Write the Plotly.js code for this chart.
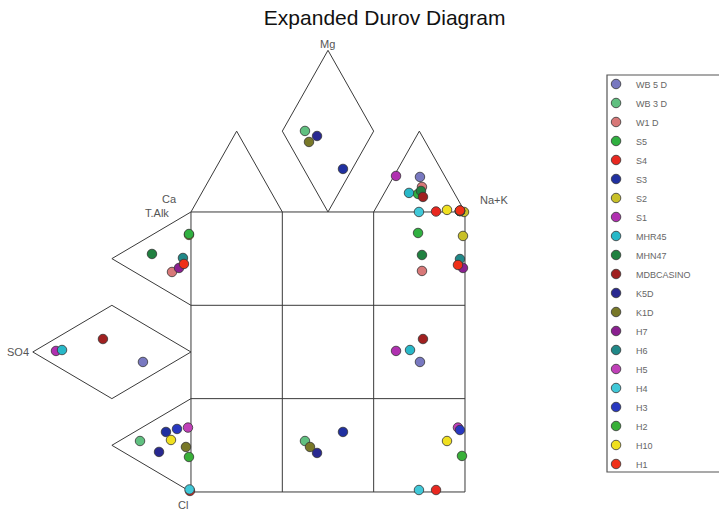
<!DOCTYPE html>
<html>
<head>
<meta charset="utf-8">
<script src="https://cdn.plot.ly/plotly-3.0.1.min.js"></script>
<style>html,body{margin:0;padding:0;background:#fff;}#chart{width:719px;height:514px;}</style>
</head>
<body>
<div id="chart"></div>
<script>
// Sample names (legend order) and colours
const samples = ["WB 5 D","WB 3 D","W1 D","S5","S4","S3","S2","S1","MHR45","MHN47","MDBCASINO","K5D","K1D","H7","H6","H5","H4","H3","H2","H10","H1"];
const colors  = ["#7878c0","#60c080","#d87878","#30b040","#e82820","#2030a0","#c8c028","#b030b0","#28b8c8","#208040","#a02020","#282890","#787828","#8a2090","#208888","#c040b8","#40c8d8","#2838c0","#38b038","#f0e020","#f03018"];

// Positions (diagram units: main square = 3 x 3 cells)
// cation field (top), anion field (left), main square
const cationX = [2.507,1.248,2.529,2.486,2.683,1.664,2.989,2.245,2.387,2.518,2.540,1.380,1.292,2.945,2.945,2.945,2.496,2.945,2.945,2.803,2.945];
const cationY = [3.375,3.868,3.268,3.193,3.005,3.461,3.000,3.386,3.204,3.225,3.161,3.814,3.750,3.011,3.011,3.011,3.000,3.011,3.011,3.022,3.016];
const anionX  = [-0.526,-0.558,-0.208,-0.022,-0.011,-0.274,-0.022,-1.478,-1.412,-0.427,-0.964,-0.350,-0.055,-0.131,-0.088,-0.033,-0.016,-0.153,-0.022,-0.219,-0.077];
const anionY  = [1.393,0.546,2.357,2.764,0.011,0.643,2.754,1.511,1.521,2.550,1.639,0.429,0.482,2.400,2.507,0.690,0.027,0.675,0.375,0.557,2.443];
const squareX = [2.507,1.248,2.529,2.486,2.683,1.664,2.978,2.245,2.398,2.529,2.540,1.380,1.303,2.978,2.945,2.923,2.496,2.945,2.967,2.803,2.923];
const squareY = [1.393,0.546,2.368,2.775,0.021,0.643,2.743,1.511,1.521,2.539,1.639,0.418,0.482,2.400,2.496,0.690,0.021,0.664,0.386,0.546,2.432];

// Field labels
const labelText = ["Mg","Na+K","Ca","T.Alk","SO4","Cl"];
const labelX    = [1.50, 3.32, -0.23, -0.37, -1.89, -0.09];
const labelY    = [4.80, 3.13, 3.14, 2.99, 1.50, -0.14];

// ---- diagram frame (geometry) ----
const h = Math.sqrt(3) / 2;
const polys = [
  [[0,0],[3,0],[3,3],[0,3],[0,0]],
  [[1,0],[1,3]], [[2,0],[2,3]], [[0,1],[3,1]], [[0,2],[3,2]],
  [[0,3],[0.5,3+h],[1,3]],
  [[1.5,3],[1,3+h],[1.5,3+2*h],[2,3+h],[1.5,3]],
  [[2,3],[2.5,3+h],[3,3]],
  [[0,3],[-h,2.5],[0,2]],
  [[0,1.5],[-h,2],[-2*h,1.5],[-h,1],[0,1.5]],
  [[0,1],[-h,0.5],[0,0]]
];
const fx = [], fy = [];
polys.forEach(p => { p.forEach(v => { fx.push(v[0]); fy.push(v[1]); }); fx.push(null); fy.push(null); });

const traces = [{
  x: fx, y: fy, mode: "lines", type: "scatter",
  line: {color: "#3a3a3a", width: 1}, hoverinfo: "skip", showlegend: false
}];

// draw order (S2 placed beneath S5), legend order kept by legendrank
const drawOrder = [0,1,2,6,3,4,5,7,8,9,10,11,12,13,14,15,16,17,18,19,20];
drawOrder.forEach(i => {
  traces.push({
    type: "scatter", mode: "markers", name: samples[i],
    x: [cationX[i], anionX[i], squareX[i]],
    y: [cationY[i], anionY[i], squareY[i]],
    legendrank: i + 1,
    marker: {symbol: "circle", size: 9.5, color: colors[i], line: {color: "#333", width: 0.8}}
  });
});

const annotations = labelText.map((t, k) => ({
  x: labelX[k], y: labelY[k], xref: "x", yref: "y", text: t, showarrow: false,
  font: {family: "Liberation Sans, Arial, sans-serif", size: 11, color: "#555"}
}));

const layout = {
  width: 719, height: 514,
  margin: {l: 0, r: 0, t: 0, b: 0},
  paper_bgcolor: "#fff", plot_bgcolor: "#fff",
  title: {text: "Expanded Durov Diagram", x: 0.535, xanchor: "center", y: 0.965, yanchor: "middle",
          font: {family: "Liberation Sans, Arial, sans-serif", size: 21, color: "#111"}},
  xaxis: {range: [-2.091, 5.781], visible: false, showgrid: false, zeroline: false, fixedrange: true},
  yaxis: {range: [-0.236, 5.271], visible: false, showgrid: false, zeroline: false, fixedrange: true},
  showlegend: true,
  legend: {x: 0.829, xanchor: "left", y: 0.8648, yanchor: "top", bgcolor: "rgba(0,0,0,0)", borderwidth: 0,
           font: {family: "Liberation Sans, Arial, sans-serif", size: 9, color: "#666"}},
  shapes: [{type: "rect", xref: "paper", yref: "paper", x0: 607/719, x1: 1.02, y0: 1 - 472/514, y1: 1 - 75/514,
            line: {color: "#555", width: 1.2}, fillcolor: "rgba(0,0,0,0)"}],
  annotations: annotations
};

Plotly.newPlot("chart", traces, layout, {displayModeBar: false, staticPlot: true});
</script>
</body>
</html>
